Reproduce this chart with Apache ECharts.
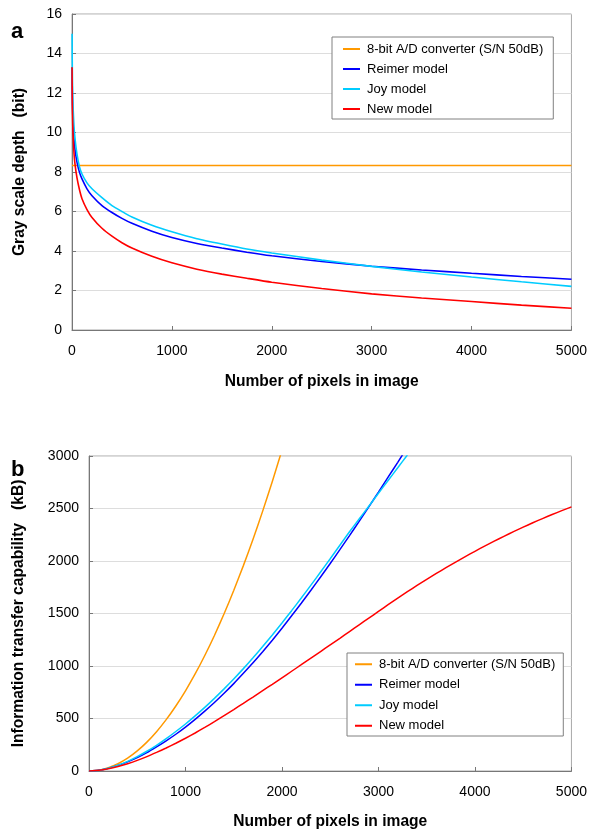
<!DOCTYPE html>
<html>
<head>
<meta charset="utf-8">
<script src="https://cdn.jsdelivr.net/npm/echarts@6/dist/echarts.min.js"></script>
<style>
html,body{margin:0;padding:0;background:#fff;}
#c{width:590px;height:833px;}
</style>
</head>
<body>
<div id="c"></div>
<script>
// ---------- data ----------
const seriesNames = ['8-bit A/D converter (S/N 50dB)', 'Reimer model', 'Joy model', 'New model'];
const xTicks = [0, 1000, 2000, 3000, 4000, 5000];

// Panel a: gray scale depth (bit) vs number of pixels
const nA = [1,2,5,10,20,30,50,75,100,150,200,300,400,500,600,800,1000,1250,1500,1750,2000,2500,3000,3500,4000,4500,5000];
const adDepth = 8.33;
const reimerDepth = [13.3,12.5,11.4,10.55,9.65,9.15,8.5,7.98,7.65,7.15,6.8,6.3,5.95,5.65,5.4,5.0,4.68,4.38,4.15,3.94,3.76,3.47,3.23,3.04,2.87,2.71,2.57];
const joyDepth    = [15.0,13.9,12.5,11.4,10.3,9.7,8.9,8.25,7.9,7.45,7.15,6.7,6.3,6.0,5.72,5.3,4.97,4.62,4.35,4.1,3.9,3.54,3.22,2.94,2.68,2.44,2.21];
const newDepth    = [13.3,12.2,10.9,9.95,8.95,8.4,7.7,7.1,6.65,6.1,5.7,5.15,4.75,4.42,4.15,3.73,3.4,3.08,2.83,2.62,2.42,2.1,1.83,1.62,1.44,1.26,1.1];

// Panel b: information transfer capability (kB), N = 0,100,200,...
const nB = [0,100,200,300,400,500,600,700,800,900,1000,1100,1200,1300,1400,1500,1600,1700,1800,1900,2000,2100,2200,2300,2400,2500,2600,2700,2800,2900,3000,3100,3200,3300,3400,3500,3600,3700,3800,3900,4000,4100,4200,4300,4400,4500,4600,4700,4800,4900,5000];
const adCap     = [0,7.6,31,69,122,191,275,374,489,619,764,924,1100,1291,1497,1719,1956,2208,2475,2758,3056];
const reimerCap = [0,7,25,52,87,128,175,230,288,350,418,492,570,652,740,832,930,1030,1135,1245,1360,1478,1598,1722,1848,1976,2108,2242,2378,2516,2656,2798,2940,3085];
const joyCap    = [0,7.2,26,55,92,137,188,245,308,376,448,525,606,692,782,876,975,1078,1185,1296,1410,1527,1647,1770,1895,2022,2150,2278,2400,2522,2645,2767,2888,3010];
const newCap    = [0,6.1,20.9,42.5,69.7,101,137,177,219,264,312,362,415,470,527,585,644,704,765,826,888,950,1012,1075,1138,1201,1264,1328,1392,1456,1520,1584,1646.5,1707.5,1767,1825,1881.5,1936.5,1990,2042,2092.5,2141.5,2189,2235,2279.5,2322.5,2364,2404,2442.5,2479.5,2515];

const colors = ['#ff9900', '#0000ff', '#00ccff', '#ff0000'];

// ---------- helpers ----------
function pairs(xs, ys) { return ys.map((v, i) => [xs[i], v]); }
const FONT = "'Liberation Sans', Arial, sans-serif";
const plain = v => String(v);

function xAxisCfg(gridIndex, gap) {
  return {
    type: 'value', gridIndex: gridIndex, min: xTicks[0], max: xTicks[xTicks.length - 1], interval: 1000,
    name: 'Number of pixels in image', nameLocation: 'middle', nameGap: gap,
    nameTextStyle: { fontFamily: FONT, fontWeight: 'bold', fontSize: 15.6, color: '#000' },
    axisLine: { show: true, onZero: false, lineStyle: { color: '#777', width: 1 } },
    axisTick: { show: true, inside: true, length: 4, lineStyle: { color: '#777' } },
    axisLabel: { fontFamily: FONT, fontSize: 14, color: '#000', margin: 14, formatter: plain },
    splitLine: { show: false }
  };
}
function yAxisCfg(gridIndex, name, max, interval, gap, margin) {
  return {
    type: 'value', gridIndex: gridIndex, min: 0, max: max, interval: interval,
    name: name, nameLocation: 'middle', nameGap: gap, nameRotate: 90,
    nameTextStyle: { fontFamily: FONT, fontWeight: 'bold', fontSize: 15.6, color: '#000' },
    axisLine: { show: true, lineStyle: { color: '#777', width: 1 } },
    axisTick: { show: true, inside: true, length: 4, lineStyle: { color: '#777' } },
    axisLabel: { fontFamily: FONT, fontSize: 14, color: '#000', margin: margin, formatter: plain },
    splitLine: { show: true, lineStyle: { color: '#dddddd', width: 1 } }
  };
}
function lineSeries(name, data, color, xi, width) {
  return {
    name: name, type: 'line', xAxisIndex: xi, yAxisIndex: xi, data: data,
    showSymbol: false, symbol: 'none', smooth: 0.2, clip: true,
    lineStyle: { color: color, width: width }, itemStyle: { color: color },
    emphasis: { disabled: true }, animation: false
  };
}
function legendCfg(left, top, lh, pad) {
  return {
    orient: 'vertical', left: left, top: top,
    data: seriesNames.map(n => ({ name: n, icon: 'rect' })),
    itemWidth: 17, itemHeight: 2, itemGap: 0,
    padding: pad,
    borderColor: '#808080', borderWidth: 1, backgroundColor: '#ffffff',
    textStyle: { fontFamily: FONT, fontSize: 13, color: '#000', lineHeight: lh, padding: [0, 0, 0, 2] },
    selectedMode: false
  };
}

const chart = echarts.init(document.getElementById('c'), null, { renderer: 'canvas' });
chart.setOption({
  animation: false,
  backgroundColor: '#ffffff',
  grid: [
    { left: 72, top: 14, width: 502, height: 316, show: true, borderColor: '#a8a8a8', borderWidth: 1, backgroundColor: 'transparent' },
    { left: 89, top: 456, width: 485, height: 315, show: true, borderColor: '#a8a8a8', borderWidth: 1, backgroundColor: 'transparent' }
  ],
  xAxis: [xAxisCfg(0, 44), xAxisCfg(1, 43)],
  yAxis: [
    yAxisCfg(0, 'Gray scale depth   (bit)', 16, 2, 44, 10),
    yAxisCfg(1, 'Information transfer capability   (kB)', 3000, 500, 62, 10)
  ],
  legend: [
    Object.assign(legendCfg(332, 37, 20, [2, 10, 0, 11]), { id: 'la' }),
    Object.assign(legendCfg(347, 653, 20.5, [1, 8, 0, 8]), { id: 'lb' })
  ],
  graphic: [
    { type: 'text', left: 11, top: 21, style: { text: 'a', fontFamily: FONT, fontWeight: 'bold', fontSize: 22, fill: '#000' } },
    { type: 'text', left: 11, top: 459, style: { text: 'b', fontFamily: FONT, fontWeight: 'bold', fontSize: 22, fill: '#000' } }
  ],
  series: [
    lineSeries(seriesNames[0], [[0, adDepth], [5000, adDepth]], colors[0], 0, 1.6),
    lineSeries(seriesNames[1], pairs(nA, reimerDepth), colors[1], 0, 1.6),
    lineSeries(seriesNames[2], pairs(nA, joyDepth), colors[2], 0, 1.6),
    lineSeries(seriesNames[3], pairs(nA, newDepth), colors[3], 0, 1.6),
    lineSeries(seriesNames[0], pairs(nB, adCap), colors[0], 1, 1.5),
    lineSeries(seriesNames[1], pairs(nB, reimerCap), colors[1], 1, 1.5),
    lineSeries(seriesNames[2], pairs(nB, joyCap), colors[2], 1, 1.5),
    lineSeries(seriesNames[3], pairs(nB, newCap), colors[3], 1, 1.5)
  ]
});
</script>
</body>
</html>
